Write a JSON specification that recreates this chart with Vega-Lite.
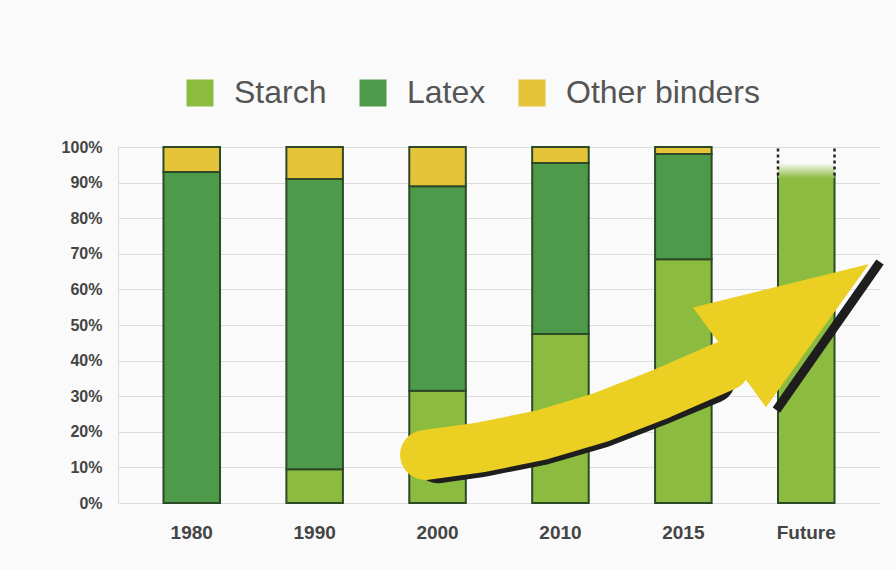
{
  "$schema": "https://vega.github.io/schema/vega-lite/v6.json",
  "width": 762,
  "height": 356,
  "autosize": {"type": "none"},
  "padding": {"left": 118, "top": 147, "right": 16, "bottom": 66},
  "background": "#fafafa",
  "config": {
    "font": "Liberation Sans",
    "view": {"stroke": null}
  },
  "datasets": {
    "bars": [
      {"year": "1980", "binder": "Latex", "share": 93, "ord": 2},
      {"year": "1980", "binder": "Other binders", "share": 7, "ord": 3},
      {"year": "1990", "binder": "Starch", "share": 9.5, "ord": 1},
      {"year": "1990", "binder": "Latex", "share": 81.5, "ord": 2},
      {"year": "1990", "binder": "Other binders", "share": 9, "ord": 3},
      {"year": "2000", "binder": "Starch", "share": 31.5, "ord": 1},
      {"year": "2000", "binder": "Latex", "share": 57.5, "ord": 2},
      {"year": "2000", "binder": "Other binders", "share": 11, "ord": 3},
      {"year": "2010", "binder": "Starch", "share": 47.5, "ord": 1},
      {"year": "2010", "binder": "Latex", "share": 48, "ord": 2},
      {"year": "2010", "binder": "Other binders", "share": 4.5, "ord": 3},
      {"year": "2015", "binder": "Starch", "share": 68.5, "ord": 1},
      {"year": "2015", "binder": "Latex", "share": 29.5, "ord": 2},
      {"year": "2015", "binder": "Other binders", "share": 2, "ord": 3},
      {"year": "Future", "binder": "Starch", "share": 92, "ord": 1}
    ],
    "fade": [{"year": "Future", "lo": 91.2, "hi": 95.5}],
    "dash": [{"year": "Future", "lo": 92, "hi": 100}],
    "shaft": [
      {"t": 40.3, "v": 13.5},
      {"t": 47.5, "v": 15.6},
      {"t": 55.4, "v": 19.0},
      {"t": 63.3, "v": 24.0},
      {"t": 71.1, "v": 30.5},
      {"t": 79.7, "v": 38.5}
    ],
    "shaftShadow": [
      {"t": 42.0, "v": 12.0},
      {"t": 47.8, "v": 13.8},
      {"t": 55.6, "v": 17.1},
      {"t": 63.5, "v": 22.0},
      {"t": 71.3, "v": 28.5},
      {"t": 78.0, "v": 34.5}
    ],
    "head": [
      {"o": 1, "t": 75.5, "v": 54.8},
      {"o": 2, "t": 98.4, "v": 66.9},
      {"o": 3, "t": 85.0, "v": 27.0}
    ],
    "headShadow": [
      {"o": 1, "t": 100.0, "v": 67.7},
      {"o": 2, "t": 86.4, "v": 26.1}
    ]
  },
  "layer": [
    {
      "data": {"name": "bars"},
      "mark": {"type": "bar", "stroke": "#2c4a26", "strokeWidth": 2},
      "encoding": {
        "x": {
          "field": "year",
          "type": "ordinal",
          "scale": {"domain": ["1980", "1990", "2000", "2010", "2015", "Future"], "paddingInner": 0.54, "paddingOuter": 0.37},
          "axis": {
            "title": null,
            "labelAngle": 0,
            "ticks": false,
            "domain": false,
            "labelFontSize": 19,
            "labelFontWeight": "bold",
            "labelColor": "#444444",
            "labelPadding": 20
          }
        },
        "y": {
          "field": "share",
          "type": "quantitative",
          "stack": "zero",
          "scale": {"domain": [0, 100], "nice": false},
          "axis": {
            "title": null,
            "values": [0, 10, 20, 30, 40, 50, 60, 70, 80, 90, 100],
            "tickCount": 12,
            "labelExpr": "datum.value + '%'",
            "labelOverlap": false,
            "ticks": false,
            "domainColor": "#dddddd",
            "gridColor": "#dcdcdc",
            "labelFontSize": 16,
            "labelFontWeight": "bold",
            "labelColor": "#444444",
            "labelPadding": 16
          }
        },
        "color": {
          "field": "binder",
          "type": "nominal",
          "scale": {
            "domain": ["Starch", "Latex", "Other binders"],
            "range": ["#8cbc3f", "#4e9a4b", "#e6c43a"]
          },
          "legend": {
            "title": null,
            "orient": "none",
            "direction": "horizontal",
            "legendX": 66,
            "legendY": -70,
            "symbolType": "square",
            "symbolSize": 729,
            "symbolStrokeWidth": 0,
            "labelFontSize": 32,
            "labelLimit": 400,
            "labelColor": "#555555",
            "labelOffset": 18,
            "columnPadding": 30
          }
        },
        "order": {"field": "ord", "type": "quantitative"}
      }
    },
    {
      "data": {"name": "fade"},
      "mark": {
        "type": "bar",
        "fill": {
          "gradient": "linear",
          "x1": 0, "y1": 1, "x2": 0, "y2": 0,
          "stops": [
            {"offset": 0, "color": "#8cbc3f"},
            {"offset": 1, "color": "#fafafa"}
          ]
        }
      },
      "encoding": {
        "x": {
          "field": "year",
          "type": "ordinal",
          "scale": {"domain": ["1980", "1990", "2000", "2010", "2015", "Future"], "paddingInner": 0.54, "paddingOuter": 0.37},
          "axis": null
        },
        "y": {"field": "lo", "type": "quantitative"},
        "y2": {"field": "hi"}
      }
    },
    {
      "data": {"name": "dash"},
      "mark": {"type": "rule", "color": "#222222", "strokeWidth": 2.5, "strokeDash": [3, 3]},
      "encoding": {
        "x": {
          "field": "year",
          "type": "ordinal",
          "bandPosition": 0,
          "scale": {"domain": ["1980", "1990", "2000", "2010", "2015", "Future"], "paddingInner": 0.54, "paddingOuter": 0.37},
          "axis": null
        },
        "y": {"field": "lo", "type": "quantitative"},
        "y2": {"field": "hi"}
      }
    },
    {
      "data": {"name": "dash"},
      "mark": {"type": "rule", "color": "#222222", "strokeWidth": 2.5, "strokeDash": [3, 3]},
      "encoding": {
        "x": {
          "field": "year",
          "type": "ordinal",
          "bandPosition": 1,
          "scale": {"domain": ["1980", "1990", "2000", "2010", "2015", "Future"], "paddingInner": 0.54, "paddingOuter": 0.37},
          "axis": null
        },
        "y": {"field": "lo", "type": "quantitative"},
        "y2": {"field": "hi"}
      }
    },
    {
      "data": {"name": "shaftShadow"},
      "mark": {"type": "trail", "size": 46, "color": "#1e1e1e"},
      "encoding": {
        "x": {"field": "t", "type": "quantitative", "scale": {"domain": [0, 100], "nice": false}, "axis": null},
        "y": {"field": "v", "type": "quantitative"}
      }
    },
    {
      "data": {"name": "shaft"},
      "mark": {"type": "trail", "size": 50, "color": "#ebcf22"},
      "encoding": {
        "x": {"field": "t", "type": "quantitative", "scale": {"domain": [0, 100], "nice": false}, "axis": null},
        "y": {"field": "v", "type": "quantitative"}
      }
    },
    {
      "data": {"name": "headShadow"},
      "mark": {"type": "line", "color": "#1e1e1e", "strokeWidth": 9},
      "encoding": {
        "x": {"field": "t", "type": "quantitative", "scale": {"domain": [0, 100], "nice": false}, "axis": null},
        "y": {"field": "v", "type": "quantitative"},
        "order": {"field": "o", "type": "quantitative"}
      }
    },
    {
      "data": {"name": "head"},
      "mark": {"type": "line", "fill": "#ebcf22", "stroke": "#ebcf22", "strokeWidth": 1},
      "encoding": {
        "x": {"field": "t", "type": "quantitative", "scale": {"domain": [0, 100], "nice": false}, "axis": null},
        "y": {"field": "v", "type": "quantitative"},
        "order": {"field": "o", "type": "quantitative"}
      }
    }
  ],
  "resolve": {"scale": {"x": "independent"}, "axis": {"x": "independent"}}
}
